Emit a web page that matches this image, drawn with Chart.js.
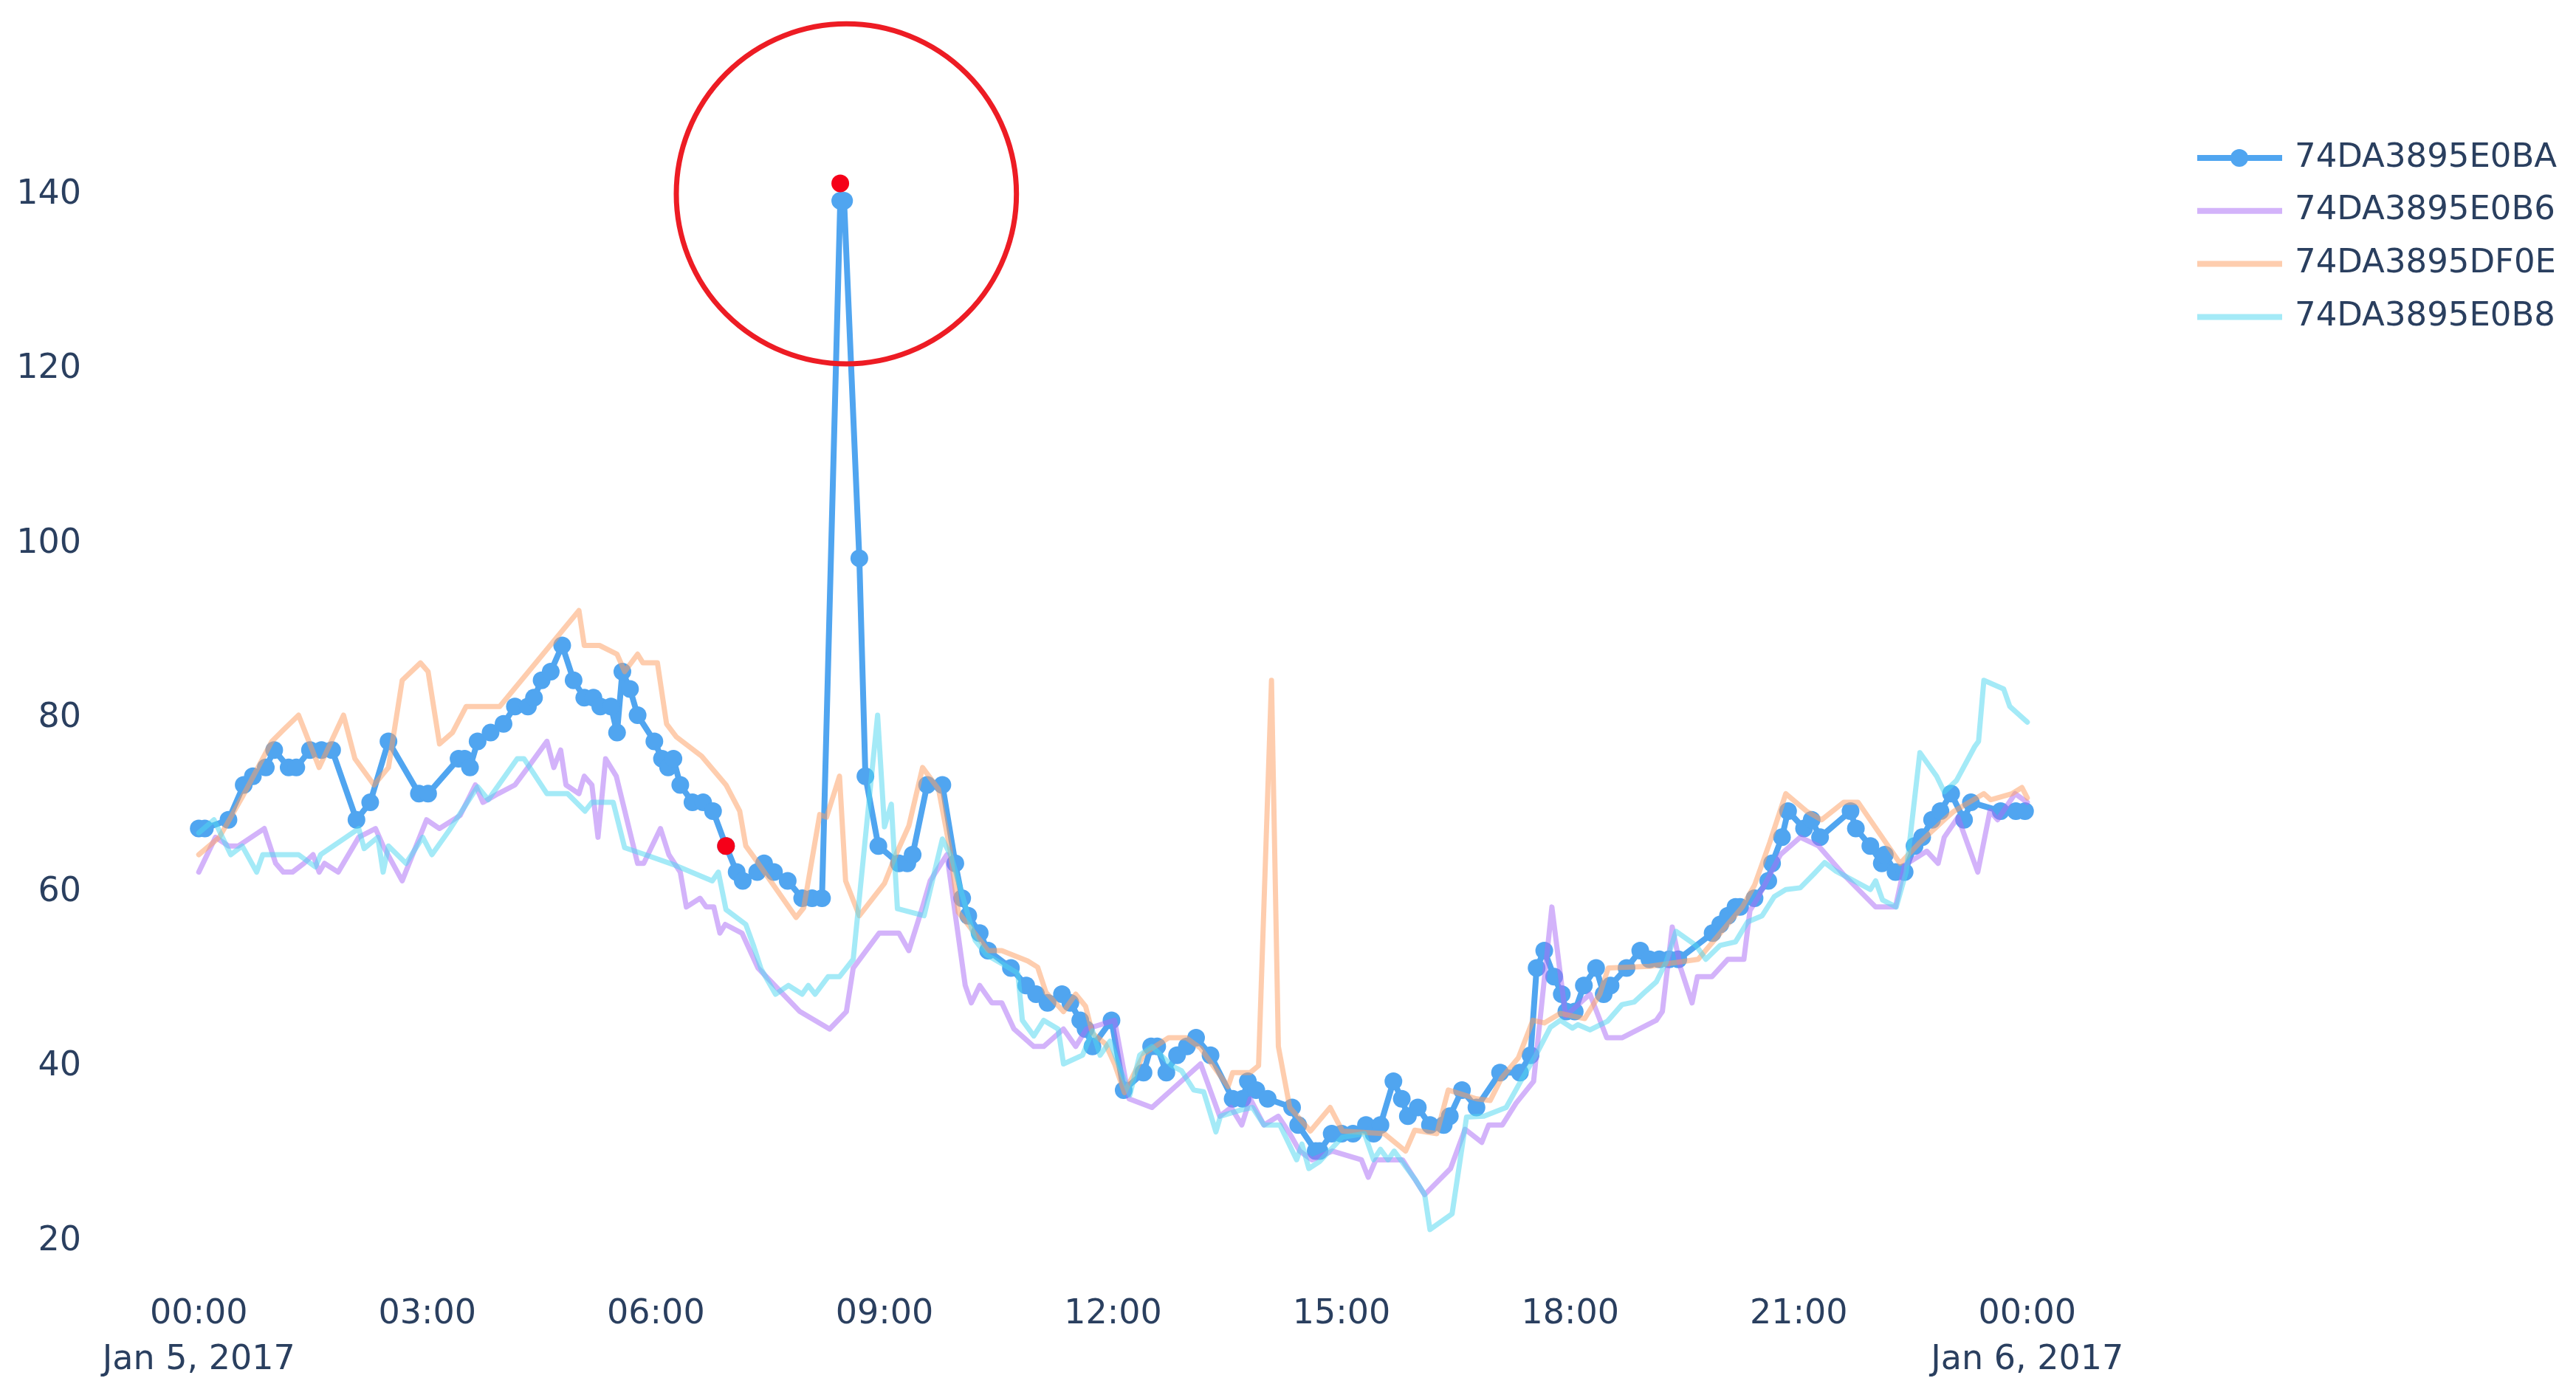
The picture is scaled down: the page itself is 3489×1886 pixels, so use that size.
<!DOCTYPE html>
<html>
<head>
<meta charset="utf-8">
<title>74DA3895 sensors - Jan 5, 2017</title>
<script src="https://cdn.jsdelivr.net/npm/chart.js@4.4.1/dist/chart.umd.min.js"></script>
<style>
  html, body { margin: 0; padding: 0; background: #ffffff; }
  canvas { display: block; }
</style>
</head>
<body>
<canvas id="myChart" width="3489" height="1886"></canvas>
<script>
const seriesNames = ['74DA3895E0BA', '74DA3895E0B6', '74DA3895DF0E', '74DA3895E0B8'];

// x = hours since Jan 5, 2017 00:00
const e0baHours = [
  0, 0.08, 0.39, 0.59, 0.71, 0.88, 0.99, 1.18, 1.28, 1.46,
  1.61, 1.75, 2.07, 2.25, 2.49, 2.89, 3.01, 3.41, 3.49, 3.56,
  3.66, 3.83, 4.0, 4.15, 4.32, 4.4, 4.5, 4.62, 4.77, 4.92,
  5.06, 5.18, 5.27, 5.41, 5.49, 5.56, 5.66, 5.76, 5.98, 6.08,
  6.16, 6.23, 6.32, 6.48, 6.62, 6.75, 6.92, 7.06, 7.14, 7.33,
  7.42, 7.55, 7.73, 7.92, 8.05, 8.18, 8.42, 8.47, 8.67, 8.75,
  8.92, 9.19, 9.3, 9.37, 9.56, 9.76, 9.93, 10.02, 10.1, 10.25,
  10.36, 10.66, 10.86, 10.99, 11.14, 11.33, 11.44, 11.57, 11.64, 11.73,
  11.98, 12.14, 12.4, 12.5, 12.58, 12.7, 12.84, 12.97, 13.09, 13.28,
  13.57, 13.7, 13.77, 13.88, 14.03, 14.35, 14.43, 14.66, 14.71, 14.87,
  15.0, 15.15, 15.32, 15.42, 15.51, 15.68, 15.79, 15.87, 16.0, 16.16,
  16.34, 16.42, 16.58, 16.77, 17.08, 17.34, 17.48, 17.56, 17.66, 17.79,
  17.89, 17.95, 18.06, 18.18, 18.34, 18.44, 18.53, 18.74, 18.92, 19.04,
  19.17, 19.3, 19.42, 19.87, 19.97, 20.07, 20.17, 20.23, 20.42, 20.6,
  20.65, 20.78, 20.86, 21.07, 21.17, 21.28, 21.68, 21.75, 21.94, 22.09,
  22.13, 22.27, 22.39, 22.52, 22.62, 22.75, 22.86, 23.0, 23.17, 23.26,
  23.65, 23.85, 23.97
];
const e0baValues = [
  67, 67, 68, 72, 73, 74, 76, 74, 74, 76,
  76, 76, 68, 70, 77, 71, 71, 75, 75, 74,
  77, 78, 79, 81, 81, 82, 84, 85, 88, 84,
  82, 82, 81, 81, 78, 85, 83, 80, 77, 75,
  74, 75, 72, 70, 70, 69, 65, 62, 61, 62,
  63, 62, 61, 59, 59, 59, 139, 139, 98, 73,
  65, 63, 63, 64, 72, 72, 63, 59, 57, 55,
  53, 51, 49, 48, 47, 48, 47, 45, 44, 42,
  45, 37, 39, 42, 42, 39, 41, 42, 43, 41,
  36, 36, 38, 37, 36, 35, 33, 30, 30, 32,
  32, 32, 33, 32, 33, 38, 36, 34, 35, 33,
  33, 34, 37, 35, 39, 39, 41, 51, 53, 50,
  48, 46, 46, 49, 51, 48, 49, 51, 53, 52,
  52, 52, 52, 55, 56, 57, 58, 58, 59, 61,
  63, 66, 69, 67, 68, 66, 69, 67, 65, 63,
  64, 62, 62, 65, 66, 68, 69, 71, 68, 70,
  69, 69, 69
];

const e0b6Hours = [
  0, 0.22, 0.39, 0.52, 0.86, 1.01, 1.11, 1.23, 1.38, 1.5,
  1.58, 1.65, 1.83, 2.1, 2.32, 2.42, 2.67, 2.99, 3.16, 3.43,
  3.63, 3.73, 3.93, 4.15, 4.32, 4.57, 4.66, 4.75, 4.82, 4.99,
  5.06, 5.16, 5.24, 5.34, 5.48, 5.76, 5.84, 6.06, 6.17, 6.32,
  6.4, 6.58, 6.66, 6.76, 6.84, 6.91, 7.13, 7.34, 7.89, 8.28,
  8.5, 8.59, 8.93, 9.19, 9.32, 9.5, 9.6, 9.82, 10.06, 10.14,
  10.25, 10.41, 10.54, 10.7, 10.96, 11.09, 11.35, 11.51, 11.65, 12.02,
  12.21, 12.51, 12.83, 13.15, 13.4, 13.55, 13.69, 13.8, 13.98, 14.17,
  14.32, 14.45, 14.61, 14.88, 15.26, 15.35, 15.45, 15.68, 15.8, 16.09,
  16.43, 16.62, 16.84, 16.93, 17.11, 17.29, 17.52, 17.76, 17.94,
  18.26, 18.48, 18.68, 19.13, 19.21, 19.34, 19.45, 19.6, 19.67, 19.86,
  20.07, 20.28, 20.36, 20.46, 20.76, 21.02, 21.26, 21.59, 22.01, 22.27,
  22.39, 22.68, 22.83, 22.91, 23.09, 23.35, 23.51, 23.61, 23.84, 24
];
const e0b6Values = [
  62, 66, 65, 65, 67, 63, 62, 62, 63, 64,
  62, 63, 62, 66, 67, 65, 61, 68, 67, 68.5,
  72, 70, 71, 72, 74, 77, 74, 76, 72, 71,
  73, 72, 66, 75, 73, 63, 63, 67, 64, 62,
  58, 59, 58, 58, 55, 56, 55, 51, 46, 44,
  46, 51, 55, 55, 53, 58, 61, 64, 49, 47,
  49, 47, 47, 44, 42, 42, 44, 42, 44, 45,
  36, 35, 37.5, 40, 34, 35, 33, 36, 33, 34,
  32, 30, 29, 30, 29, 27, 29, 29, 29, 25,
  28, 32.5, 31, 33, 33, 35.5, 38, 58, 45.5,
  48, 43, 43, 45, 46, 55.7, 51, 47, 50, 50,
  52, 52, 57.6, 59, 64, 66, 65, 61.7, 58, 58,
  62.8, 64.4, 63, 66, 68.3, 62, 69, 68, 71, 70
];

const df0eHours = [
  0, 0.27, 0.57, 0.96, 1.11, 1.31, 1.58, 1.9, 2.05, 2.3,
  2.49, 2.67, 2.91, 3.01, 3.16, 3.33, 3.51, 3.95, 4.99,
  5.06, 5.26, 5.49, 5.59, 5.76, 5.83, 6.02, 6.14, 6.27, 6.6,
  6.92, 7.1, 7.18, 7.28, 7.84, 7.94, 8.15, 8.24, 8.41,
  8.49, 8.67, 9, 9.15, 9.32, 9.5, 9.71, 9.86, 9.97, 10.36,
  10.54, 10.88, 11.01, 11.12, 11.35, 11.51, 11.64, 11.73, 11.9, 12.02,
  12.15, 12.41, 12.73, 12.96, 13.15, 13.51, 13.57, 13.8, 13.91, 14.08,
  14.17, 14.32, 14.59, 14.85, 15.01, 15.56, 15.84, 15.96, 16.25, 16.4,
  16.77, 16.95, 17.1, 17.32, 17.51, 17.66, 17.87, 18.19, 18.39, 18.5,
  19.04, 19.68, 20.26, 20.42, 20.62, 20.83, 21.1, 21.3, 21.59, 21.78,
  22.33, 22.59, 22.91, 23.04, 23.43, 23.52, 23.8, 23.93, 24
];
const df0eValues = [
  64, 66, 70.6, 77, 78.3, 80, 74, 80, 75, 72,
  74, 84, 86, 85, 76.7, 78, 81, 81, 92,
  88, 88, 87, 85, 87, 86, 86, 79, 77.5, 75.3,
  72, 69, 65, 63.8, 56.8, 57.9, 68.6, 68.3, 73,
  61, 57, 60.7, 64, 67.3, 74, 71.5, 64.6, 57.4, 53,
  53, 51.8, 51.1, 48.2, 46, 48, 46.6, 43.5, 42.3, 40,
  36.7, 41.2, 43, 43, 41.8, 37.4, 39, 39, 39.8, 84,
  42, 35, 32.3, 35, 32.3, 32, 30, 32.4, 32, 37,
  36, 35.8, 38.4, 40.7, 45, 44.7, 45.8, 45.2, 48, 51,
  51.2, 52, 58, 60.5, 65.4, 71, 69, 68, 70, 70,
  63, 65.4, 68, 69, 71, 70.3, 71, 71.7, 70.5
];

const e0b8Hours = [
  0, 0.2, 0.42, 0.57, 0.76, 0.84, 1.31, 1.53, 1.6, 2.1,
  2.17, 2.35, 2.42, 2.49, 2.72, 2.94, 3.06, 3.28, 3.66, 3.8,
  4.18, 4.27, 4.57, 4.84, 5.07, 5.16, 5.44, 5.59, 5.86, 6.25,
  6.74, 6.82, 6.92, 7.18, 7.28, 7.38, 7.57, 7.74, 7.92, 8,
  8.09, 8.26, 8.41, 8.59, 8.91, 9, 9.09, 9.17, 9.52,
  9.76, 9.88, 10.19, 10.34, 10.58, 10.75, 10.81, 10.96, 11.09, 11.28,
  11.35, 11.6, 11.73, 11.83, 11.96, 12.22, 12.35, 12.51, 12.77, 12.9,
  13.06, 13.19, 13.35, 13.41, 13.67, 13.83, 13.98, 14.19, 14.41, 14.48,
  14.57, 14.71, 15.01, 15.3, 15.42, 15.51, 15.61, 15.69, 15.97, 16.09,
  16.16, 16.45, 16.64, 16.87, 17.16, 17.35, 17.55, 17.74, 17.87, 18.03,
  18.1, 18.26, 18.49, 18.68, 18.84, 19, 19.13, 19.26, 19.39, 19.65,
  19.78, 19.97, 20.17, 20.33, 20.52, 20.68, 20.83, 21.02, 21.2, 21.34,
  21.49, 21.94, 22.01, 22.1, 22.28, 22.41, 22.59, 22.81, 22.91, 23.07,
  23.31, 23.36, 23.43, 23.69, 23.77, 24
];
const e0b8Values = [
  66.5, 68, 64, 65, 62, 64, 64, 62.6, 64, 67,
  64.7, 66, 62, 65, 63, 66, 64, 66.7, 71.8, 70.3,
  75, 75, 71, 71, 69, 70, 70, 64.8, 64, 62.8,
  61, 62, 57.7, 56, 53.6, 50.9, 48, 49, 48, 49,
  48, 50, 50, 52, 80, 67.2, 69.8, 57.8, 57,
  65.8, 63.7, 54.2, 52.5, 51.3, 50.4, 45, 43.2, 45, 44,
  40, 41, 43.8, 41, 42.6, 36.4, 41, 42, 39.8, 39.2,
  37, 36.8, 32.2, 34, 34.7, 35, 33, 33, 29, 30.8,
  28, 28.8, 31.6, 32, 29, 30.2, 29, 30, 26.7, 25,
  21, 22.8, 33.9, 34, 35, 38, 41, 44.2, 45, 44.1,
  44.5, 43.9, 44.9, 46.8, 47.1, 48.4, 49.4, 51.7, 55.2, 53.6,
  52, 53.6, 54, 56.3, 57, 59.2, 60, 60.2, 61.8, 63.1,
  62.1, 60, 61, 58.8, 58, 62, 75.7, 73, 71.2, 72.5,
  76.4, 77, 84, 83, 81, 79.2
];

// flagged readings (red dots)
const alertHours = [6.92, 8.42];
const alertValues = [65, 141];

// ring drawn around the spike: center in data units, radius in y units
const ringCenter = [8.5, 139.8];
const ringRadius = 19.5;

const yTicks = [20, 40, 60, 80, 100, 120, 140];
const xTicks = [0, 3, 6, 9, 12, 15, 18, 21, 24];
const xTickLabels = ['00:00', '03:00', '06:00', '09:00', '12:00', '15:00', '18:00', '21:00', '00:00'];
const xDateLabels = ['Jan 5, 2017', '', '', '', '', '', '', '', 'Jan 6, 2017'];

const BLUE = 'rgb(80, 165, 240)';
const PURPLE = 'rgba(170, 110, 245, 0.52)';
const ORANGE = 'rgba(253, 160, 100, 0.52)';
const CYAN = 'rgba(80, 215, 240, 0.52)';
const RED = 'rgb(245, 0, 25)';
const TEXT = '#2a3f5f';
const FONT = 'DejaVu Sans';

/**
 * hours + values -> {x, y} points
 */
function toPoints(hours, values){
  return hours.map((h, i) => ({ x: h, y: values[i] }));
}

function lineSet(name, hours, values, color, order){
  return {
    label: name,
    data: toPoints(hours, values),
    borderColor: color,
    backgroundColor: color,
    borderWidth: 7,
    pointRadius: 0,
    order: order
  };
}

// red ring around the spike
const ringPlugin = {
  id: 'ring',
  afterDraw(chart){
    const { ctx } = chart;
    const x = chart.scales.x;
    const y = chart.scales.y;
    const cx = x.getPixelForValue(ringCenter[0]);
    const cy = y.getPixelForValue(ringCenter[1]);
    const r = y.getPixelForValue(ringCenter[1] - ringRadius) - cy;
    ctx.save();
    ctx.beginPath();
    ctx.arc(cx, cy, r, 0, Math.PI * 2);
    ctx.lineWidth = 7;
    ctx.strokeStyle = 'rgb(237, 28, 36)';
    ctx.stroke();
    ctx.restore();
  }
};

// plotly style legend on the right
const sideLegend = {
  id: 'sideLegend',
  afterDraw(chart){
    const ctx = chart.ctx;
    ctx.save();
    ctx.font = '45px "' + FONT + '"';
    ctx.textBaseline = 'middle';
    ctx.textAlign = 'left';
    seriesNames.forEach((name, i) => {
      const ds = chart.data.datasets[i];
      const y = 214 + i * 71.8;
      ctx.beginPath();
      ctx.moveTo(2976, y);
      ctx.lineTo(3091, y);
      ctx.lineWidth = 8;
      ctx.strokeStyle = ds.borderColor;
      ctx.stroke();
      if (ds.pointRadius > 0) {
        ctx.beginPath();
        ctx.arc(3033, y, ds.pointRadius, 0, Math.PI * 2);
        ctx.fillStyle = ds.pointBackgroundColor;
        ctx.fill();
      }
      ctx.fillStyle = TEXT;
      ctx.fillText(name, 3108, y);
    });
    ctx.restore();
  }
};

function drawChart(){
  const ctx = document.getElementById('myChart').getContext('2d');
  Chart.defaults.font.family = FONT;

  const blue = {
    label: seriesNames[0],
    data: toPoints(e0baHours, e0baValues),
    borderColor: BLUE,
    backgroundColor: BLUE,
    pointBackgroundColor: BLUE,
    pointBorderWidth: 0,
    pointRadius: 12,
    borderWidth: 8,
    order: 4
  };
  const alerts = {
    label: 'alerts',
    data: toPoints(alertHours, alertValues),
    showLine: false,
    pointRadius: 12,
    pointBorderWidth: 0,
    pointBackgroundColor: RED,
    backgroundColor: RED,
    borderColor: RED,
    order: 0
  };

  new Chart(ctx, {
    type: 'line',
    data: {
      datasets: [
        blue,
        lineSet(seriesNames[1], e0b6Hours, e0b6Values, PURPLE, 3),
        lineSet(seriesNames[2], df0eHours, df0eValues, ORANGE, 2),
        lineSet(seriesNames[3], e0b8Hours, e0b8Values, CYAN, 1),
        alerts
      ]
    },
    options: {
      responsive: false,
      animation: false,
      devicePixelRatio: 1,
      events: [],
      layout: { padding: { top: 162, right: 589, bottom: 0, left: 0 } },
      elements: {
        line: { tension: 0, borderJoinStyle: 'round', borderCapStyle: 'round' }
      },
      plugins: {
        legend: { display: false },
        tooltip: { enabled: false }
      },
      scales: {
        x: {
          type: 'linear',
          min: -1.349,
          max: 25.494,
          grid: { display: false, drawTicks: false },
          border: { display: false },
          afterBuildTicks: (scale) => { scale.ticks = xTicks.map(v => ({ value: v })); },
          afterFit: (scale) => { scale.height = 166; },
          ticks: {
            autoSkip: false,
            maxRotation: 0,
            padding: 30,
            color: TEXT,
            font: { family: FONT, size: 46, lineHeight: 62 / 46 },
            callback: (value, index) => xDateLabels[index] ? [xTickLabels[index], xDateLabels[index]] : xTickLabels[index]
          }
        },
        y: {
          min: 16.42,
          max: 148.32,
          grid: { display: false, drawTicks: false },
          border: { display: false },
          afterBuildTicks: (scale) => { scale.ticks = yTicks.map(v => ({ value: v })); },
          afterFit: (scale) => { scale.width = 130; },
          ticks: {
            padding: 20,
            labelOffset: 4,
            color: TEXT,
            font: { family: FONT, size: 46 },
            callback: (value) => String(value)
          }
        }
      }
    },
    plugins: [ringPlugin, sideLegend]
  });
}

window.onload = () => {
  drawChart();
};
</script>
</body>
</html>
